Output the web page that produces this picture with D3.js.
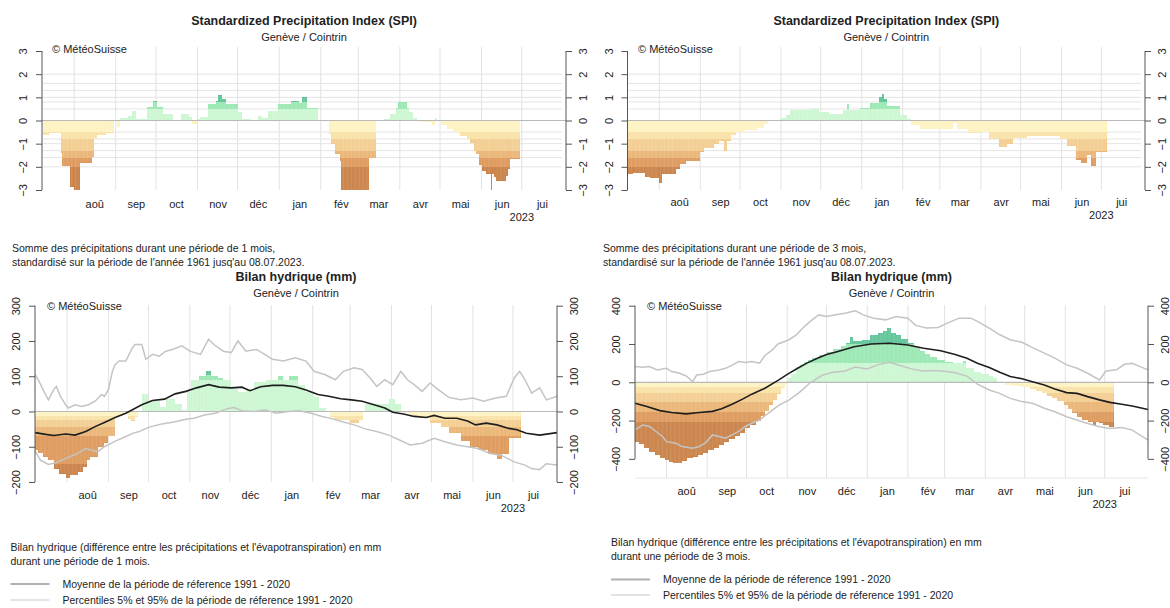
<!DOCTYPE html>
<html>
<head>
<meta charset="utf-8">
<script src="https://cdn.jsdelivr.net/npm/d3@7"></script>
<style>
body { margin: 0; background: #fff; }
text { font-family: "Liberation Sans", Arial, Helvetica, sans-serif; fill: #222; }
</style>
</head>
<body>
<div id="canvas"></div>
<script>

// ---- data (Genève / Cointrin) ----
// bar series are runs: [start date, value], each run lasts until the next one

var monthStarts = ['2022-08-01','2022-09-01','2022-10-01','2022-11-01','2022-12-01','2023-01-01',
                   '2023-02-01','2023-03-01','2023-04-01','2023-05-01','2023-06-01','2023-07-01'];
var monthLabels = ['aoû','sep','oct','nov','déc','jan','fév','mar','avr','mai','jun','jui'];

var spiTicks = [-3,-2,-1,0,1,2,3];
var spiGrid = [-2,-1.6,-1.3,-1,-0.8,-0.5,0.5,0.8,1,1.3,1.6,2];
var bilan1Ticks = [-200,-100,0,100,200,300];
var bilan3Ticks = [-400,-200,0,200,400];

var spi1 = [
  ['2022-07-09',-0.64],['2022-07-13',-0.55],['2022-07-22',-1.42],['2022-07-23',-1.97],['2022-07-29',-2.85],
  ['2022-08-01',-3.3],['2022-08-05',-1.82],['2022-08-14',-1.57],['2022-08-16',-0.75],['2022-08-18',-0.62],
  ['2022-08-25',-0.52],['2022-08-31',0],['2022-09-02',-0.3],['2022-09-04',0.12],['2022-09-10',0.18],
  ['2022-09-13',0.4],['2022-09-16',0.05],['2022-09-24',0.6],['2022-09-29',0.85],['2022-10-02',0.6],
  ['2022-10-06',0.3],['2022-10-14',0.04],['2022-10-17',0],['2022-10-20',0.28],['2022-10-26',0.15],
  ['2022-10-28',-0.15],['2022-11-01',0.05],['2022-11-03',0.15],['2022-11-09',0.72],['2022-11-15',0.86],
  ['2022-11-16',1.08],['2022-11-19',0.94],['2022-11-22',0.72],['2022-12-01',0.36],['2022-12-04',0.07],
  ['2022-12-11',0.03],['2022-12-16',0.2],['2022-12-19',0.1],['2022-12-24',0.43],['2022-12-31',0.72],
  ['2023-01-10',0.86],['2023-01-16',0.76],['2023-01-18',1.0],['2023-01-22',0.53],['2023-01-30',0.04],
  ['2023-02-02',0],['2023-02-07',-0.6],['2023-02-09',-1.0],['2023-02-12',-1.45],['2023-02-15',-1.75],
  ['2023-02-16',-3.3],['2023-03-09',-1.6],['2023-03-14',0],['2023-03-20',0.05],['2023-03-25',0.3],
  ['2023-03-29',0.55],['2023-03-31',0.78],['2023-04-06',0.55],['2023-04-08',0.35],['2023-04-11',0.12],
  ['2023-04-14',0],['2023-04-17',-0.05],['2023-04-25',-0.2],['2023-04-27',0.1],['2023-04-29',0],
  ['2023-05-02',-0.2],['2023-05-06',-0.35],['2023-05-11',-0.5],['2023-05-16',-0.65],['2023-05-21',-0.8],
  ['2023-05-23',-0.95],['2023-05-26',-1.3],['2023-05-28',-1.45],['2023-05-30',-1.9],['2023-06-01',-2.2],
  ['2023-06-04',-2.3],['2023-06-08',-3.3],['2023-06-09',-2.3],['2023-06-10',-2.45],['2023-06-12',-2.6],
  ['2023-06-19',-2.4],['2023-06-21',-2.1],['2023-06-22',-1.65]
];
var spi1End = '2023-06-30';

var spi3 = [
  ['2022-07-08',-2.32],['2022-07-12',-2.28],['2022-07-21',-2.45],['2022-07-25',-2.5],['2022-08-01',-2.7],
  ['2022-08-03',-2.3],['2022-08-14',-2.1],['2022-08-17',-1.87],['2022-08-21',-1.76],['2022-09-01',-1.37],
  ['2022-09-04',-1.2],['2022-09-11',-1.0],['2022-09-15',-0.9],['2022-09-19',-1.3],['2022-09-21',-0.9],
  ['2022-09-24',-0.63],['2022-09-28',-0.48],['2022-10-05',-0.42],['2022-10-14',-0.33],['2022-10-19',-0.15],
  ['2022-10-22',0],['2022-10-31',0.12],['2022-11-05',0.22],['2022-11-08',0.45],['2022-11-23',0.5],
  ['2022-11-30',0.35],['2022-12-07',0.3],['2022-12-18',0.45],['2022-12-21',0.7],['2022-12-22',0.47],
  ['2022-12-31',0.55],['2023-01-07',0.75],['2023-01-14',1.0],['2023-01-16',1.15],['2023-01-18',0.92],
  ['2023-01-20',0.62],['2023-01-30',0.25],['2023-02-04',0.08],['2023-02-07',-0.2],['2023-02-14',-0.35],
  ['2023-03-11',-0.1],['2023-03-14',-0.35],['2023-03-22',-0.55],['2023-03-31',-0.5],['2023-04-07',-0.82],
  ['2023-04-15',-1.15],['2023-04-21',-1.0],['2023-04-25',-0.75],['2023-05-06',-0.65],['2023-05-31',-0.8],
  ['2023-06-05',-1.1],['2023-06-12',-1.7],['2023-06-16',-1.85],['2023-06-20',-1.5],['2023-06-23',-1.95],
  ['2023-06-27',-1.35]
];
var spi3End = '2023-07-05';

var bilan1 = [
  ['2022-07-08',-110],['2022-07-10',-119],['2022-07-14',-128],['2022-07-18',-138],['2022-07-22',-162],
  ['2022-07-26',-176],['2022-07-31',-190],['2022-08-03',-181],['2022-08-09',-171],['2022-08-13',-157],
  ['2022-08-16',-138],['2022-08-18',-128],['2022-08-24',-100],['2022-08-29',-88],['2022-09-01',-70],
  ['2022-09-06',-12],['2022-09-12',-5],['2022-09-16',-20],['2022-09-18',-28],['2022-09-21',-15],
  ['2022-09-23',0],['2022-09-26',50],['2022-10-01',30],['2022-10-10',12],['2022-10-14',35],
  ['2022-10-21',20],['2022-10-26',5],['2022-10-30',55],['2022-11-02',90],['2022-11-08',100],
  ['2022-11-13',115],['2022-11-17',100],['2022-11-22',95],['2022-11-26',90],['2022-12-02',70],
  ['2022-12-07',55],['2022-12-13',65],['2022-12-19',85],['2022-12-28',90],['2023-01-06',100],
  ['2023-01-10',90],['2023-01-14',100],['2023-01-21',75],['2023-01-26',55],['2023-02-02',40],
  ['2023-02-06',10],['2023-02-11',0],['2023-02-14',-15],['2023-02-17',-25],['2023-03-01',-32],
  ['2023-03-08',-25],['2023-03-11',0],['2023-03-12',20],['2023-03-30',35],['2023-04-04',20],
  ['2023-04-08',0],['2023-04-10',-5],['2023-04-15',-15],['2023-04-30',-33],['2023-05-08',-45],
  ['2023-05-14',-60],['2023-05-23',-85],['2023-05-30',-100],['2023-06-05',-110],['2023-06-12',-120],
  ['2023-06-19',-135],['2023-06-23',-120],['2023-06-28',-75]
];
var bilan1End = '2023-07-07';

var bilan1Mean = [
  ['2022-07-08',-60],['2022-07-16',-65],['2022-07-22',-68],['2022-07-31',-64],['2022-08-07',-67],
  ['2022-08-15',-57],['2022-08-22',-43],['2022-08-29',-31],['2022-09-06',-17],['2022-09-14',-5],
  ['2022-09-19',5],['2022-09-26',19],['2022-10-04',31],['2022-10-13',35],['2022-10-21',50],
  ['2022-10-29',57],['2022-11-06',67],['2022-11-15',76],['2022-11-23',69],['2022-12-02',67],
  ['2022-12-10',69],['2022-12-16',59],['2022-12-24',70],['2023-01-02',74],['2023-01-10',74],
  ['2023-01-19',70],['2023-01-27',61],['2023-02-05',48],['2023-02-13',43],['2023-02-22',36],
  ['2023-03-02',33],['2023-03-10',29],['2023-03-19',19],['2023-03-27',10],['2023-04-02',-2],
  ['2023-04-10',-7],['2023-04-18',-14],['2023-04-27',-17],['2023-05-03',-11],['2023-05-11',-19],
  ['2023-05-20',-19],['2023-05-28',-27],['2023-06-03',-38],['2023-06-11',-33],['2023-06-19',-38],
  ['2023-06-28',-48],['2023-07-04',-52],['2023-07-11',-62],['2023-07-21',-67],['2023-08-03',-60]
];

var bilan1P95 = [
  ['2022-07-08',105],['2022-07-11',86],['2022-07-14',62],['2022-07-18',33],['2022-07-22',62],
  ['2022-07-24',71],['2022-07-27',43],['2022-07-31',19],['2022-08-02',10],['2022-08-07',19],
  ['2022-08-12',14],['2022-08-17',19],['2022-08-22',29],['2022-08-27',48],['2022-08-29',43],
  ['2022-09-01',62],['2022-09-04',114],['2022-09-06',133],['2022-09-09',143],['2022-09-14',143],
  ['2022-09-19',181],['2022-09-21',190],['2022-09-26',190],['2022-09-29',148],['2022-10-04',162],
  ['2022-10-09',157],['2022-10-14',171],['2022-10-19',176],['2022-10-26',186],['2022-11-01',171],
  ['2022-11-09',162],['2022-11-15',205],['2022-11-19',190],['2022-11-26',171],['2022-12-02',167],
  ['2022-12-07',200],['2022-12-13',171],['2022-12-21',176],['2022-12-27',162],['2023-01-02',148],
  ['2023-01-10',143],['2023-01-19',152],['2023-01-27',143],['2023-02-02',114],['2023-02-10',105],
  ['2023-02-18',90],['2023-02-24',114],['2023-03-04',124],['2023-03-10',119],['2023-03-16',95],
  ['2023-03-21',71],['2023-03-27',90],['2023-04-02',76],['2023-04-08',114],['2023-04-13',90],
  ['2023-04-18',76],['2023-04-24',57],['2023-04-30',81],['2023-05-06',62],['2023-05-14',40],
  ['2023-05-23',33],['2023-06-01',38],['2023-06-09',29],['2023-06-18',38],['2023-06-26',43],
  ['2023-07-02',95],['2023-07-06',114],['2023-07-10',90],['2023-07-15',52],['2023-07-21',67],
  ['2023-07-26',33],['2023-08-03',43]
];

var bilan1P5 = [
  ['2022-07-08',-112],['2022-07-12',-138],['2022-07-18',-150],['2022-07-24',-145],['2022-07-31',-133],
  ['2022-08-09',-119],['2022-08-15',-105],['2022-08-24',-114],['2022-08-29',-100],['2022-09-05',-86],
  ['2022-09-14',-71],['2022-09-19',-62],['2022-09-24',-57],['2022-10-01',-45],['2022-10-10',-36],
  ['2022-10-20',-30],['2022-10-29',-22],['2022-11-04',-19],['2022-11-12',-10],['2022-11-20',-5],
  ['2022-11-29',8],['2022-12-04',11],['2022-12-10',2],['2022-12-19',0],['2022-12-27',5],
  ['2023-01-05',-5],['2023-01-14',0],['2023-01-22',2],['2023-01-31',-5],['2023-02-08',-14],
  ['2023-02-16',-21],['2023-02-24',-30],['2023-03-04',-38],['2023-03-13',-50],['2023-03-21',-57],
  ['2023-03-30',-67],['2023-04-07',-81],['2023-04-15',-95],['2023-04-24',-90],['2023-05-03',-76],
  ['2023-05-11',-86],['2023-05-20',-95],['2023-05-28',-100],['2023-06-05',-105],['2023-06-14',-119],
  ['2023-06-22',-124],['2023-07-02',-143],['2023-07-10',-152],['2023-07-15',-162],['2023-07-21',-165],
  ['2023-07-26',-148],['2023-08-03',-152]
];

var bilan3 = [
  ['2022-07-08',-310],['2022-07-11',-325],['2022-07-15',-345],['2022-07-19',-365],['2022-07-23',-382],
  ['2022-07-27',-397],['2022-07-31',-407],['2022-08-03',-418],['2022-08-06',-422],['2022-08-13',-410],
  ['2022-08-17',-397],['2022-08-21',-388],['2022-08-25',-380],['2022-08-29',-368],['2022-09-02',-356],
  ['2022-09-06',-343],['2022-09-10',-328],['2022-09-14',-310],['2022-09-18',-295],['2022-09-22',-280],
  ['2022-09-26',-266],['2022-09-30',-240],['2022-10-04',-222],['2022-10-08',-200],['2022-10-12',-178],
  ['2022-10-15',-150],['2022-10-18',-120],['2022-10-21',-90],['2022-10-24',-60],['2022-10-27',-32],
  ['2022-10-30',-10],['2022-11-01',21],['2022-11-04',45],['2022-11-08',80],['2022-11-11',95],
  ['2022-11-14',105],['2022-11-17',115],['2022-11-20',125],['2022-11-25',140],['2022-12-01',160],
  ['2022-12-06',175],['2022-12-12',190],['2022-12-16',205],['2022-12-19',235],['2022-12-21',214],
  ['2022-12-28',222],['2023-01-03',248],['2023-01-09',256],['2023-01-13',268],['2023-01-16',283],
  ['2023-01-19',260],['2023-01-23',245],['2023-01-27',228],['2023-02-01',205],['2023-02-06',185],
  ['2023-02-10',165],['2023-02-14',150],['2023-02-18',134],['2023-02-23',117],['2023-03-01',108],
  ['2023-03-07',103],['2023-03-12',99],['2023-03-15',112],['2023-03-17',75],['2023-03-23',56],
  ['2023-03-29',42],['2023-04-04',35],['2023-04-07',21],['2023-04-10',0],['2023-04-16',-12],
  ['2023-04-22',-20],['2023-04-28',-27],['2023-05-05',-35],['2023-05-10',-45],['2023-05-14',-58],
  ['2023-05-18',-70],['2023-05-22',-84],['2023-05-26',-100],['2023-05-31',-120],['2023-06-03',-140],
  ['2023-06-06',-160],['2023-06-10',-180],['2023-06-14',-195],['2023-06-18',-205],['2023-06-22',-225],
  ['2023-06-24',-205],['2023-06-27',-215],['2023-06-30',-225],['2023-07-04',-232]
];
var bilan3End = '2023-07-08';

var bilan3Mean = [
  ['2022-07-08',-110],['2022-07-17',-127],['2022-07-27',-148],['2022-08-05',-158],['2022-08-16',-165],
  ['2022-08-26',-158],['2022-09-05',-152],['2022-09-12',-138],['2022-09-20',-115],['2022-09-28',-88],
  ['2022-10-05',-62],['2022-10-15',-31],['2022-10-25',10],['2022-11-02',45],['2022-11-09',73],
  ['2022-11-16',100],['2022-11-24',125],['2022-12-01',145],['2022-12-09',160],['2022-12-22',186],
  ['2023-01-04',200],['2023-01-18',204],['2023-02-01',195],['2023-02-13',178],['2023-02-26',165],
  ['2023-03-09',145],['2023-03-18',125],['2023-03-26',99],['2023-04-04',77],['2023-04-12',52],
  ['2023-04-20',30],['2023-04-29',18],['2023-05-07',3],['2023-05-16',-14],['2023-05-24',-35],
  ['2023-06-02',-54],['2023-06-10',-58],['2023-06-18',-75],['2023-06-27',-92],['2023-07-05',-105],
  ['2023-07-14',-115],['2023-07-22',-124],['2023-08-03',-142]
];

var bilan3P95 = [
  ['2022-07-08',82],['2022-07-14',78],['2022-07-19',82],['2022-07-25',64],['2022-08-01',73],
  ['2022-08-05',56],['2022-08-11',47],['2022-08-16',33],['2022-08-21',3],['2022-08-24',38],
  ['2022-08-29',42],['2022-09-03',56],['2022-09-10',64],['2022-09-15',73],['2022-09-20',90],
  ['2022-09-25',108],['2022-09-30',103],['2022-10-05',108],['2022-10-11',100],['2022-10-15',140],
  ['2022-10-20',165],['2022-10-25',200],['2022-11-02',221],['2022-11-08',248],['2022-11-14',291],
  ['2022-11-20',326],['2022-11-25',352],['2022-12-01',344],['2022-12-07',352],['2022-12-15',361],
  ['2022-12-23',373],['2022-12-29',352],['2023-01-06',335],['2023-01-15',326],['2023-01-23',344],
  ['2023-02-01',335],['2023-02-07',297],['2023-02-15',283],['2023-02-24',286],['2023-03-03',309],
  ['2023-03-12',335],['2023-03-21',335],['2023-03-26',318],['2023-04-04',283],['2023-04-12',248],
  ['2023-04-20',222],['2023-04-29',209],['2023-05-07',181],['2023-05-16',152],['2023-05-24',126],
  ['2023-06-02',91],['2023-06-10',73],['2023-06-18',47],['2023-06-27',12],['2023-07-02',59],
  ['2023-07-10',65],['2023-07-16',94],['2023-07-22',99],['2023-07-28',82],['2023-08-03',65]
];

var bilan3P5 = [
  ['2022-07-08',-249],['2022-07-14',-223],['2022-07-19',-231],['2022-07-24',-257],['2022-07-29',-283],
  ['2022-08-01',-310],['2022-08-08',-318],['2022-08-13',-336],['2022-08-21',-344],['2022-08-26',-336],
  ['2022-08-31',-315],['2022-09-05',-275],['2022-09-10',-283],['2022-09-15',-292],['2022-09-20',-275],
  ['2022-09-25',-257],['2022-09-30',-231],['2022-10-05',-214],['2022-10-11',-197],['2022-10-16',-170],
  ['2022-10-21',-144],['2022-10-26',-118],['2022-11-02',-95],['2022-11-11',-49],['2022-11-19',0],
  ['2022-11-28',38],['2022-12-06',52],['2022-12-15',59],['2022-12-23',80],['2023-01-01',70],
  ['2023-01-09',91],['2023-01-18',104],['2023-01-26',88],['2023-02-04',70],['2023-02-12',59],
  ['2023-02-21',62],['2023-03-01',58],['2023-03-09',50],['2023-03-18',32],['2023-03-26',-10],
  ['2023-04-04',-40],['2023-04-12',-58],['2023-04-20',-84],['2023-04-29',-101],['2023-05-07',-110],
  ['2023-05-16',-136],['2023-05-24',-154],['2023-06-02',-180],['2023-06-10',-197],['2023-06-18',-215],
  ['2023-06-27',-232],['2023-07-05',-241],['2023-07-14',-236],['2023-07-22',-250],['2023-08-03',-302]
];

// class colours, from the zero line outwards
var negColors = ['#fdf1ba','#f8df9f','#f1c885','#e8ad67','#da8e4a','#c47434'];
var posColors = ['#c6f6cd','#8fe5ab','#4fbd8d','#2f9a72','#1f7c5b','#115c42'];

var parse = d3.timeParse('%Y-%m-%d');
var xStart = parse('2022-07-08'), xEnd = parse('2023-08-03');

svg = d3.select('#canvas').append('svg')
  .attr('width', 1170)
  .attr('height', 608)
  .style('display', 'block');

function runsToSegments(runs, end) {
  return runs.map(function(r, i) {
    return {
      start: parse(r[0]),
      end: i < runs.length - 1 ? parse(runs[i+1][0]) : parse(end),
      v: r[1]
    };
  });
}

function drawPanel(p, idx) {
  var x = d3.scaleTime().domain([xStart, xEnd]).range([p.left, p.right]);
  var y = d3.scaleLinear().domain(p.yDomain).range([p.bottom, p.top]).clamp(true);
  var g = svg.append('g');
  var cx = (p.left + p.right) / 2;

  // month grid
  g.selectAll('.vgrid').data(monthStarts).join('line')
    .attr('x1', function(d) { return x(parse(d)); })
    .attr('x2', function(d) { return x(parse(d)); })
    .attr('y1', p.gridTop).attr('y2', p.bottom)
    .attr('stroke', '#e2e2e2').attr('stroke-width', 1);

  if (p.hGrid) {
    g.selectAll('.hgrid').data(p.hGrid).join('line')
      .attr('x1', p.left + 1).attr('x2', p.right - 4)
      .attr('y1', function(d) { return y(d); })
      .attr('y2', function(d) { return y(d); })
      .attr('stroke', '#e4e4e4').attr('stroke-width', 1);
  }
  if (p.baseLine) {
    g.append('line')
      .attr('x1', p.left).attr('x2', p.right)
      .attr('y1', p.bottom).attr('y2', p.bottom)
      .attr('stroke', '#e6e6e6');
  }

  // bars split into classes
  var segs = runsToSegments(p.runs, p.end);
  var negEdges = [0].concat(p.negCuts.map(function(c) { return -c; })).concat([p.yDomain[0]]);
  var posEdges = [0].concat(p.posCuts).concat([p.yDomain[1]]);
  var pieces = [];
  segs.forEach(function(s) {
    if (s.v < 0) {
      for (var k = 0; k < negEdges.length - 1; k++) {
        var hi = negEdges[k], lo = Math.max(negEdges[k+1], s.v);
        if (lo < hi) pieces.push({s: s, lo: lo, hi: hi, c: negColors[k]});
      }
    } else if (s.v > 0) {
      for (var k = 0; k < posEdges.length - 1; k++) {
        var lo = posEdges[k], hi = Math.min(posEdges[k+1], s.v);
        if (lo < hi) pieces.push({s: s, lo: lo, hi: hi, c: posColors[k]});
      }
    }
  });
  g.append('g').selectAll('rect').data(pieces).join('rect')
    .attr('x', function(d) { return x(d.s.start); })
    .attr('width', function(d) { return x(d.s.end) - x(d.s.start); })
    .attr('y', function(d) { return y(d.hi); })
    .attr('height', function(d) { return y(d.lo) - y(d.hi); })
    .attr('fill', function(d) { return d.c; })
    .attr('shape-rendering', 'crispEdges');

  // thin daily separators inside the bars
  var clipId = 'bars' + idx;
  g.append('clipPath').attr('id', clipId)
    .selectAll('rect').data(segs.filter(function(s) { return s.v != 0; })).join('rect')
    .attr('x', function(s) { return x(s.start); })
    .attr('width', function(s) { return x(s.end) - x(s.start); })
    .attr('y', function(s) { return Math.min(y(0), y(s.v)); })
    .attr('height', function(s) { return Math.abs(y(s.v) - y(0)); });
  g.append('g').attr('clip-path', 'url(#' + clipId + ')')
    .selectAll('line').data(d3.timeDay.range(segs[0].start, segs[segs.length-1].end)).join('line')
    .attr('x1', function(d) { return x(d); })
    .attr('x2', function(d) { return x(d); })
    .attr('y1', p.top).attr('y2', p.bottom)
    .attr('stroke', '#fff').attr('stroke-width', 0.4).attr('stroke-opacity', 0.55);

  // zero line
  g.append('line')
    .attr('x1', p.left).attr('x2', p.right)
    .attr('y1', y(0)).attr('y2', y(0))
    .attr('stroke', '#b9b9b9').attr('stroke-width', 1.2);

  // reference lines
  var line = d3.line()
    .x(function(d) { return x(parse(d[0])); })
    .y(function(d) { return y(d[1]); });
  (p.pLines || []).forEach(function(s) {
    g.append('path').attr('d', line(s))
      .attr('fill', 'none').attr('stroke', '#c4c4c4').attr('stroke-width', 1.5);
  });
  if (p.mean) {
    g.append('path').attr('d', line(p.mean))
      .attr('fill', 'none').attr('stroke', '#1e1e1e').attr('stroke-width', 1.6);
  }

  // y axes, R style: line only between outer ticks, labels rotated
  var yMin = d3.min(p.ticks), yMax = d3.max(p.ticks);
  [['left', p.left, d3.axisLeft(y), -15], ['right', p.right, d3.axisRight(y), 21]].forEach(function(a) {
    var ax = g.append('g')
      .attr('transform', 'translate(' + a[1] + ',0)')
      .call(a[2].tickValues(p.ticks).tickSize(6).tickFormat(d3.format('d')));
    ax.select('.domain').remove();
    ax.append('line').attr('y1', y(yMin)).attr('y2', y(yMax)).attr('stroke', '#555');
    ax.selectAll('.tick line').attr('stroke', '#555');
    ax.selectAll('.tick text')
      .attr('x', 0).attr('y', a[3]).attr('dy', 0)
      .attr('transform', 'rotate(-90)')
      .attr('text-anchor', 'middle')
      .style('font-size', '11px').style('font-family', '"Liberation Sans", Arial, sans-serif')
      .attr('fill', '#333');
  });

  // month labels
  var xa = g.append('g')
    .attr('transform', 'translate(0,' + p.monthY + ')')
    .call(d3.axisBottom(x)
      .tickValues(monthStarts.map(function(d) { return d3.timeDay.offset(parse(d), 15); }))
      .tickFormat(function(d, i) { return monthLabels[i]; })
      .tickSize(0));
  xa.select('.domain').remove();
  xa.selectAll('text').attr('y', 0).attr('dy', 0)
    .style('font-size', '11px').style('font-family', '"Liberation Sans", Arial, sans-serif')
    .attr('fill', '#333');
  g.append('text')
    .attr('x', x(parse('2023-07-01'))).attr('y', p.yearY)
    .attr('text-anchor', 'middle')
    .style('font-size', '11px').attr('fill', '#333')
    .text('2023');

  // titles
  g.append('text')
    .attr('x', cx).attr('y', p.titleY)
    .attr('text-anchor', 'middle')
    .style('font-size', '12.5px').style('font-weight', 'bold')
    .text(p.title);
  g.append('text')
    .attr('x', cx).attr('y', p.titleY + 16)
    .attr('text-anchor', 'middle')
    .style('font-size', '11px').attr('fill', '#333')
    .text('Genève / Cointrin');
  g.append('text')
    .attr('x', p.left + p.logoDx).attr('y', p.logoY)
    .style('font-size', '11px')
    .text('© MétéoSuisse');

  // captions under the plot
  p.captions.forEach(function(c, i) {
    g.append('text')
      .attr('x', p.capX).attr('y', p.capY + i * 14)
      .style('font-size', '10.5px')
      .text(c);
  });
  if (p.legendY) {
    var leg = [['Moyenne de la période de réference 1991 - 2020', '#b0b0b0'],
               ['Percentiles 5% et 95% de la période de réference 1991 - 2020', '#e4e4e4']];
    leg.forEach(function(l, i) {
      var ly = p.legendY + i * p.legendGap;
      g.append('line')
        .attr('x1', p.capX).attr('x2', p.capX + 39)
        .attr('y1', ly).attr('y2', ly)
        .attr('stroke', l[1]).attr('stroke-width', 2);
      g.append('text')
        .attr('x', p.capX + 52).attr('y', ly + 3.5)
        .style('font-size', '10.5px')
        .text(l[0]);
    });
  }
}

var spiCaption = function(n) {
  return ['Somme des précipitations durant une période de ' + n + ' mois,',
          "standardisé sur la période de l'année 1961 jusq'au 08.07.2023."];
};
var bilanCaption = function(n) {
  return ["Bilan hydrique (différence entre les précipitations et l'évapotranspiration) en mm",
          'durant une période de ' + n + ' mois.'];
};

var panels = [
  {left: 35, right: 557, top: 305.7, bottom: 482, gridTop: 305, yDomain: [-200, 300], ticks: bilan1Ticks,
   runs: bilan1, end: bilan1End, negCuts: [12, 25, 45, 70, 150], posCuts: [88, 104],
   mean: bilan1Mean, pLines: [bilan1P95, bilan1P5],
   title: 'Bilan hydrique (mm)', titleY: 281, logoDx: 12, logoY: 310, monthY: 499, yearY: 512,
   captions: bilanCaption(1), capX: 10.5, capY: 551, legendY: 584, legendGap: 16},
  {left: 635, right: 1148, top: 305.7, bottom: 478, gridTop: 305, yDomain: [-500, 400], ticks: bilan3Ticks,
   runs: bilan3, end: bilan3End, negCuts: [25, 55, 105, 155, 210], posCuts: [100, 200],
   mean: bilan3Mean, pLines: [bilan3P95, bilan3P5], baseLine: true,
   title: 'Bilan hydrique (mm)', titleY: 281, logoDx: 12, logoY: 310, monthY: 495, yearY: 507.5,
   captions: bilanCaption(3), capX: 611, capY: 546, legendY: 579.5, legendGap: 15.5},
  {left: 42, right: 566, top: 51, bottom: 190, gridTop: 47, yDomain: [-3, 3], ticks: spiTicks, hGrid: spiGrid,
   runs: spi1, end: spi1End, negCuts: [0.5, 0.8, 1.3, 1.6, 2.0], posCuts: [0.5, 0.8, 1.3, 1.6, 2.0],
   title: 'Standardized Precipitation Index (SPI)', titleY: 25, logoDx: 10, logoY: 53, monthY: 208, yearY: 221,
   captions: spiCaption(1), capX: 12, capY: 251.5},
  {left: 627.5, right: 1145, top: 51, bottom: 190, gridTop: 47, yDomain: [-3, 3], ticks: spiTicks, hGrid: spiGrid,
   runs: spi3, end: spi3End, negCuts: [0.5, 0.8, 1.3, 1.6, 2.0], posCuts: [0.5, 0.8, 1.3, 1.6, 2.0],
   title: 'Standardized Precipitation Index (SPI)', titleY: 25, logoDx: 10.5, logoY: 53, monthY: 206, yearY: 219,
   captions: spiCaption(3), capX: 603, capY: 251.5}
];

panels.forEach(drawPanel);

</script>
</body>
</html>
